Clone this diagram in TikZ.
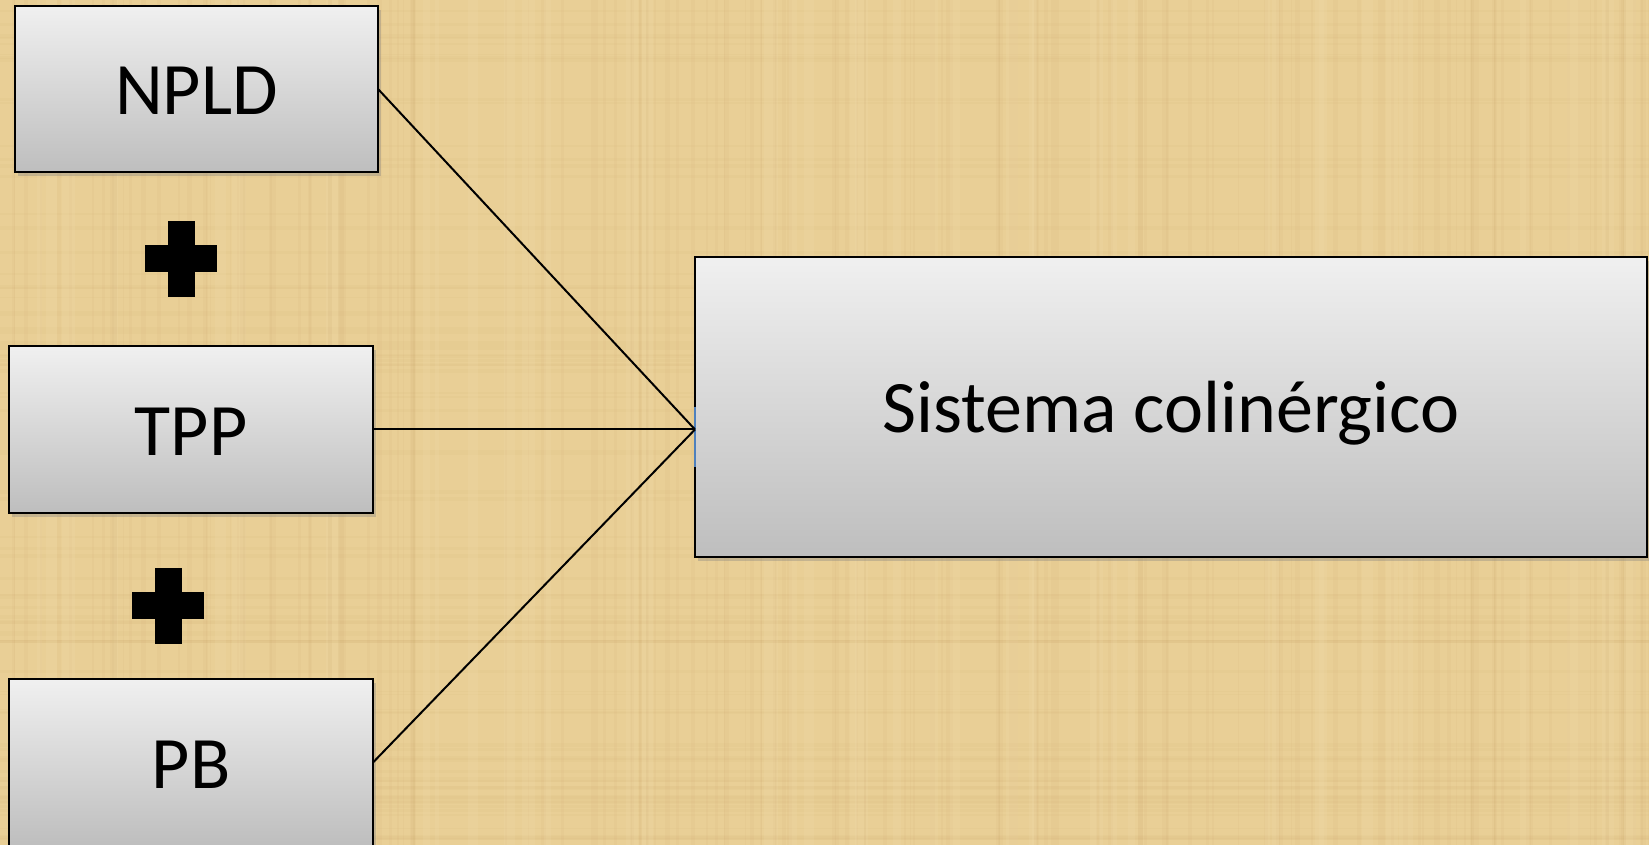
\documentclass[tikz,border=0pt]{standalone}
\usepackage{fontspec}
\setmainfont{Carlito}
\usetikzlibrary{shadows}
\definecolor{papyrus}{RGB}{233,207,150}
\definecolor{papyrusdark}{RGB}{196,160,96}
\definecolor{papyruslight}{RGB}{245,226,180}
\definecolor{boxtop}{RGB}{240,240,240}
\definecolor{boxbot}{RGB}{190,190,190}
\definecolor{marker}{RGB}{79,129,189}
\begin{document}
\begin{tikzpicture}[x=1pt,y=1pt,
  box/.style={draw=black, line width=1.6pt, top color=boxtop, bottom color=boxbot,
    inner sep=0pt, outer sep=0pt, text height=62pt, text depth=10pt,
    drop shadow={shadow xshift=3pt, shadow yshift=-4pt, opacity=0.35},
    font=\fontsize{74}{88}\selectfont},
  link/.style={draw=black, line width=2pt},
  plussign/.pic={
    \fill[black] (-13.5,-38) rectangle (13.5,38);
    \fill[black] (-36,-13.5) rectangle (36,13.5);
  }]
\useasboundingbox (0,0) rectangle (1649,845);
\fill[papyrus] (0,0) rectangle (1649,845);
% faint papyrus texture
\pgfmathsetseed{42}
\foreach \i in {0,...,160}{
  \pgfmathsetmacro{\xx}{rnd*1649}
  \pgfmathsetmacro{\ww}{1+rnd*4}
  \fill[papyrusdark, opacity=0.07] (\xx,0) rectangle ++(\ww,845);
}
\foreach \i in {0,...,80}{
  \pgfmathsetmacro{\yy}{rnd*845}
  \pgfmathsetmacro{\hh}{1+rnd*4}
  \fill[papyrusdark, opacity=0.06] (0,\yy) rectangle ++(1649,\hh);
}
\foreach \i in {0,...,40}{
  \pgfmathsetmacro{\xx}{rnd*1649}
  \pgfmathsetmacro{\ww}{4+rnd*10}
  \fill[papyruslight, opacity=0.15] (\xx,0) rectangle ++(\ww,845);
}

\node[box, minimum width=363, minimum height=166] (npld) at (196.5,756) {NPLD};
\node[box, minimum width=364, minimum height=167] (tpp) at (191,415.5) {TPP};
\node[box, minimum width=364, minimum height=167] (pb) at (191,82.5) {PB};
\node[box, minimum width=952, minimum height=300] (sis) at (1171,438) {Sistema colinérgico};

\pic at (181,586) {plussign};
\pic at (168,239) {plussign};

\coordinate (J) at (sis.west |- tpp.east);
\draw[marker, line width=1.6pt] (sis.west) -- ++(0,-60);
\draw[link] (npld.east) -- (J);
\draw[link] (tpp.east) -- (J);
\draw[link] (pb.east) -- (J);
\end{tikzpicture}
\end{document}
